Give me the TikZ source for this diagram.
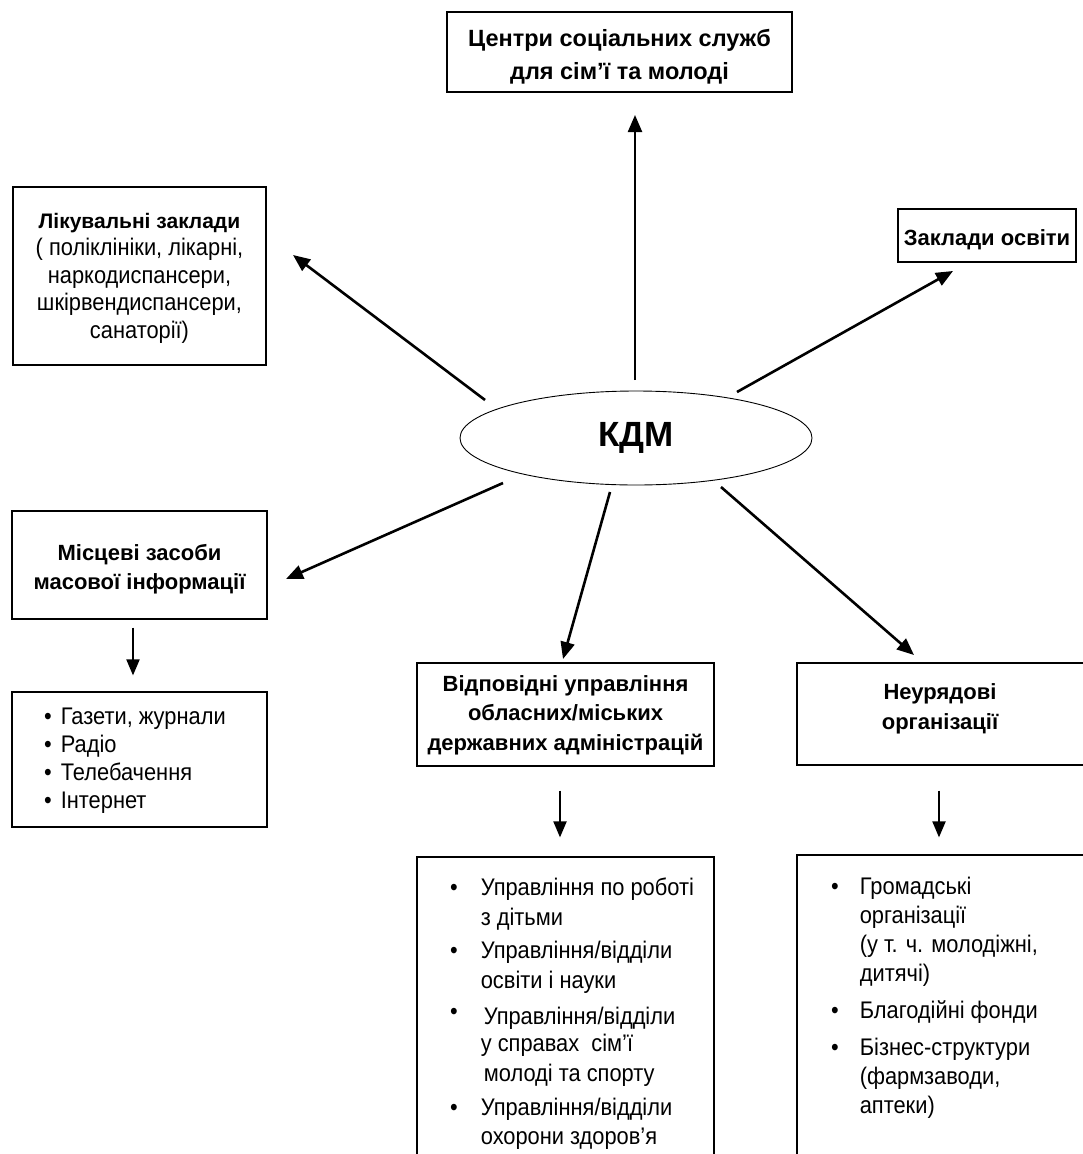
\documentclass[tikz,border=0pt]{standalone}
\usepackage{fontspec}
\setmainfont{Liberation Sans}
\newfontfamily\condf[FakeStretch=0.91]{Liberation Sans}
\usetikzlibrary{arrows.meta,shapes.geometric}
\newcommand{\bodyf}{\condf\fontsize{24}{27.5}\selectfont}
\newcommand{\headf}{\bfseries\fontsize{22}{29.5}\selectfont}
\newcommand{\topf}{\bfseries\fontsize{23.5}{33}\selectfont}
\tikzset{
  boxnode/.style={draw, line width=1.2pt, inner sep=0pt, align=center},
  txt/.style={inner sep=0pt, align=center},
  arr/.style={-{Triangle[length=17pt,width=14pt]}, line width=2.6pt},
  varr/.style={-{Triangle[length=16pt,width=13pt]}, line width=2pt},
}
\begin{document}
\begin{tikzpicture}[x=1pt,y=-1pt]
\useasboundingbox (0,0) rectangle (1083,1154);
\clip (0,0) rectangle (1083,1154);
\fill[white] (0,0) rectangle (1083,1154);

% boxes
\node[boxnode, minimum width=345pt, minimum height=80pt] (csss) at (619.5,52) {};
\node[txt, font=\topf] (cssst) at (619.5,57) {Центри соціальних служб\\для сім’ї та молоді};

\node[boxnode, minimum width=253pt, minimum height=178pt] (likz) at (139.5,276) {};
\node[txt, font=\bodyf] (likzt) at (139.5,278)
  {{\rmfamily\bfseries\fontsize{21}{29.5}\selectfont Лікувальні заклади}\\( поліклініки, лікарні,\\наркодиспансери,\\шкірвендиспансери,\\санаторії)};

\node[boxnode, minimum width=178pt, minimum height=53pt] (zosv) at (987,235.5) {};
\node[txt, font=\headf] (zosvt) at (987,239.5) {Заклади освіти};

\node[draw, ellipse, line width=0.9pt, minimum width=352pt, minimum height=94pt, inner sep=0pt,
  font=\bfseries\fontsize{35}{40}\selectfont] (kdm) at (636,438) {КДМ};

\node[boxnode, minimum width=255pt, minimum height=108pt] (mzmi) at (139.5,565) {};
\node[txt, font=\headf] (mzmit) at (139.5,569) {Місцеві засоби\\масової інформації};

\node[boxnode, minimum width=255pt, minimum height=135pt] (zmi) at (139.5,759.5) {};
\node[anchor=west, align=left, inner sep=0pt, font=\condf\fontsize{24}{28}\selectfont] (zmit) at (44,761)
  {\textbullet\hspace{9pt}Газети, журнали\\\textbullet\hspace{9pt}Радіо\\\textbullet\hspace{9pt}Телебачення\\\textbullet\hspace{9pt}Інтернет};

\node[boxnode, minimum width=297pt, minimum height=103pt] (vupr) at (565.5,714.5) {};
\node[txt, font=\headf] (vuprt) at (565.5,715)
  {Відповідні управління\\обласних/міських\\державних адміністрацій};

\node[boxnode, minimum width=293pt, minimum height=102pt] (nurg) at (943.5,714) {};
\node[txt, font=\headf] (nurgt) at (940,709) {Неурядові\\організації};

\node[boxnode, minimum width=297pt, minimum height=320pt] (uprl) at (565.5,1017) {};
\node[boxnode, minimum width=293pt, minimum height=320pt] (ngol) at (943.5,1015) {};

\node[anchor=north west, inner sep=0pt, font=\condf\fontsize{24}{30}\selectfont] (uprt) at (450,874) {%
\begin{tabular}{@{}l@{\hspace{23pt}}l@{}}
\textbullet & Управління по роботі\\
 & з дітьми\\[3pt]
\textbullet & Управління/відділи\\
 & освіти і науки\\[6pt]
\raisebox{5pt}{\textbullet} & \hspace{3pt}Управління/відділи\\[-3pt]
 & у справах\ \ сім’ї\\
 & \hspace{3pt}молоді та спорту\\[4pt]
\textbullet & Управління/відділи\\[-1pt]
 & охорони здоров’я
\end{tabular}};

\node[anchor=north west, inner sep=0pt, font=\condf\fontsize{24}{29}\selectfont] (ngot) at (831,874) {%
\begin{tabular}{@{}l@{\hspace{21pt}}l@{}}
\textbullet & Громадські\\
 & організації\\
 & (у т. ч. молодіжні,\\
 & дитячі)\\[8pt]
\textbullet & Благодійні фонди\\[8pt]
\textbullet & Бізнес-структури\\
 & (фармзаводи,\\
 & аптеки)
\end{tabular}};

% arrow end points
\coordinate (kU) at (635,380);   \coordinate (tU) at (635,115);
\coordinate (kUL) at (485,400);  \coordinate (tUL) at (293,255);
\coordinate (kUR) at (737,392);  \coordinate (tUR) at (953,271);
\coordinate (kLL) at (503,483);  \coordinate (tLL) at (286,579);
\coordinate (kLM) at (610,492);  \coordinate (tLM) at (563,659);
\coordinate (kLR) at (721,487);  \coordinate (tLR) at (914,655);

\draw[arr, line width=2.3pt] (kU) -- (tU);
\draw[arr] (kUL) -- (tUL);
\draw[arr] (kUR) -- (tUR);
\draw[arr] (kLL) -- (tLL);
\draw[arr] (kLM) -- (tLM);
\draw[arr] (kLR) -- (tLR);

\draw[varr] ([xshift=-6.5pt,yshift=-8pt]mzmi.south) -- ([xshift=-6.5pt,yshift=16pt]zmi.north);
\draw[varr] ([xshift=-5.5pt,yshift=-24pt]vupr.south) -- ([xshift=-5.5pt,yshift=19pt]uprl.north);
\draw[varr] ([xshift=-4.5pt,yshift=-25pt]nurg.south) -- ([xshift=-4.5pt,yshift=17pt]ngol.north);
\end{tikzpicture}
\end{document}
